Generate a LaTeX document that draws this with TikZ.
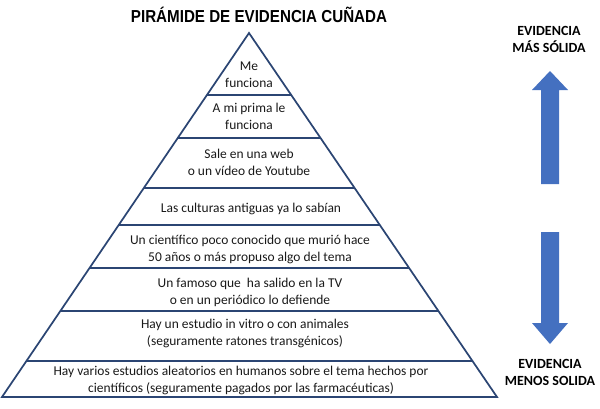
\documentclass[tikz,border=0pt]{standalone}
\usepackage{fontspec}
\setmainfont{Carlito}
\newfontfamily\titlefont{Liberation Sans}
\usepackage{xcolor}
\usetikzlibrary{calc}

\definecolor{pyrline}{HTML}{2B4573}
\definecolor{arrowblue}{HTML}{4470C0}

\begin{document}
\begin{tikzpicture}[x=0.75pt,y=-0.75pt,
  band/.style={font=\fontsize{10.1}{12.75}\selectfont, align=center, text=black!90},
  side/.style={font=\bfseries\fontsize{10.5}{12.75}\selectfont, align=center, text=black},
  edge/.style={draw=pyrline, line width=1.3pt}]
\useasboundingbox (0,0) rectangle (600,408);
% piramide
\coordinate (top) at (249,33);
\coordinate (bl) at (2,397);
\coordinate (br) at (497,397);
\draw[edge, line join=miter] (top) -- (bl) -- (br) -- cycle;
\foreach \y in {95,138,188,225,268,311,361}
  \draw[edge] ($(top)!{(\y-33)/364}!(bl)$) -- ($(top)!{(\y-33)/364}!(br)$);

\node[font=\titlefont\bfseries\fontsize{13}{14}\selectfont, text=black] (title) at (259,15) {\scalebox{0.875}[1]{PIRÁMIDE DE EVIDENCIA CUÑADA}};

% niveles
\node[band] (me) at (249,75) {Me\\funciona};
\node[band] (prima) at (249,116.5) {A mi prima le\\funciona};
\node[band] (web) at (249,162.5) {Sale en una web\\o un vídeo de Youtube};
\node[band] (culturas) at (251,209) {Las culturas antiguas ya lo sabían};
\node[band] (cientifico) at (250,249) {Un científico poco conocido que murió hace\\50 años o más propuso algo del tema};
\node[band] (famoso) at (250,292) {Un famoso que \ ha salido en la TV\\o en un periódico lo defiende};
\node[band] (vitro) at (245,333) {Hay un estudio in vitro o con animales\\(seguramente ratones transgénicos)};
\node[band] (varios) at (241,380) {Hay varios estudios aleatorios en humanos sobre el tema hechos por\\científicos (seguramente pagados por las farmacéuticas)};

% flechas
\node[side] (solida) at (549,39.5) {EVIDENCIA\\MÁS SÓLIDA};
\node[side] (menos) at (550,372.5) {EVIDENCIA\\MENOS SOLIDA};
\fill[arrowblue] (541,184) -- (541,90) -- (532,90) -- (550,71) -- (568,90) -- (559,90) -- (559,184) -- cycle;
\fill[arrowblue] (541,232) -- (541,323) -- (532,323) -- (550,344) -- (568,323) -- (559,323) -- (559,232) -- cycle;
\end{tikzpicture}
\end{document}
